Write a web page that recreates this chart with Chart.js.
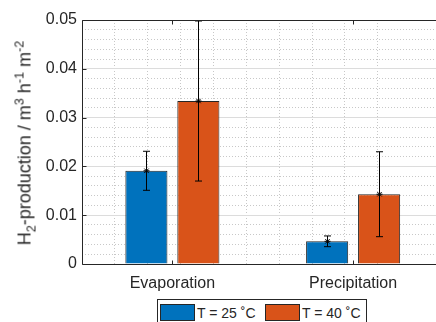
<!DOCTYPE html>
<html lang="en">
<head>
<meta charset="UTF-8">
<title>H2 production</title>
<script src="https://cdn.jsdelivr.net/npm/chart.js"></script>
<style>
  html, body { margin: 0; padding: 0; background: #fff; overflow: hidden; }
  body { font-family: 'Liberation Sans', Arial, sans-serif; color: #262626; }
  #wrap { position: relative; width: 436px; height: 322px; overflow: hidden; }
  #chart { position: absolute; left: 0; top: 0; }
  #ylabel {
    position: absolute; left: 25px; top: 143px;
    transform: translate(-50%, -50%) rotate(-90deg);
    font-size: 18px; white-space: nowrap;
  }
  #ylabel sub, #ylabel sup { font-size: 70%; line-height: 0; }
  #legend {
    position: absolute; left: 157px; top: 299px; width: 208px; height: 30px;
    border: 1px solid #262626; background: #fff; font-size: 14px;
  }
  .sw { position: absolute; top: 4px; width: 33px; height: 15px; border: 1px solid #262626; }
  .lt { position: absolute; top: 5px; line-height: 16px; white-space: nowrap; }
</style>
</head>
<body>
<div id="wrap">
  <canvas id="chart" width="450" height="322"></canvas>
  <div id="ylabel">H<sub>2</sub>-production / m<sup>3</sup> h<sup>-1</sup> m<sup>-2</sup></div>
  <div id="legend"></div>
</div>

<script>
// data
var categories = ['Evaporation', 'Precipitation'];
var seriesNames = ['T = 25 \u02DAC', 'T = 40 \u02DAC'];
var mean25 = [0.0191, 0.00465];
var err25 = [0.0040, 0.0011];
var mean40 = [0.0334, 0.0143];
var err40 = [0.0164, 0.0087];
var yTicks = [0, 0.01, 0.02, 0.03, 0.04, 0.05];

var colors = ['#0072BD', '#D95319'];
var axisColor = '#262626';

function isWhole(v, unit) {
  var q = v / unit;
  return Math.abs(q - Math.round(q)) < 1e-6;
}
function tickVal(c) {
  return c && c.tick ? c.tick.value : null;
}

// error bars + asterisk marker on top of each bar
var errorBars = {
  id: 'errorBars',
  afterDatasetsDraw: function (chart) {
    var ctx = chart.ctx, y = chart.scales.y;
    ctx.save();
    ctx.strokeStyle = '#000';
    ctx.lineWidth = 1;
    chart.data.datasets.forEach(function (ds, i) {
      chart.getDatasetMeta(i).data.forEach(function (bar, j) {
        var m = ds.data[j], e = ds.errors[j];
        var x = Math.round(bar.x) + 0.5;
        var hi = y.getPixelForValue(m + e), lo = y.getPixelForValue(m - e), mid = y.getPixelForValue(m);
        ctx.beginPath();
        ctx.moveTo(x, hi); ctx.lineTo(x, lo);
        ctx.moveTo(x - 3.5, hi); ctx.lineTo(x + 3.5, hi);
        ctx.moveTo(x - 3.5, lo); ctx.lineTo(x + 3.5, lo);
        // asterisk
        ctx.moveTo(x - 3, mid); ctx.lineTo(x + 3, mid);
        ctx.moveTo(x, mid - 3); ctx.lineTo(x, mid + 3);
        ctx.moveTo(x - 2.2, mid - 2.2); ctx.lineTo(x + 2.2, mid + 2.2);
        ctx.moveTo(x - 2.2, mid + 2.2); ctx.lineTo(x + 2.2, mid - 2.2);
        ctx.stroke();
      });
    });
    ctx.restore();
  }
};

// MATLAB style box with inward ticks
var axesBox = {
  id: 'axesBox',
  afterDraw: function (chart) {
    var ctx = chart.ctx, a = chart.chartArea;
    var y = chart.scales.y, x = chart.scales.x;
    var l = Math.round(a.left) + 0.5, b = Math.round(a.bottom) + 0.5, t = Math.round(a.top) + 0.5;
    ctx.save();
    ctx.strokeStyle = axisColor;
    ctx.lineWidth = 1;
    ctx.beginPath();
    ctx.moveTo(l, t); ctx.lineTo(l, b); ctx.lineTo(a.right, b);
    ctx.moveTo(l, t); ctx.lineTo(a.right, t);
    yTicks.forEach(function (v) {
      var py = Math.round(y.getPixelForValue(v)) + 0.5;
      ctx.moveTo(l, py); ctx.lineTo(l + 4, py);
    });
    categories.forEach(function (c, i) {
      var px = Math.round(x.getPixelForValue(i)) + 0.5;
      ctx.moveTo(px, b); ctx.lineTo(px, b - 4);
      ctx.moveTo(px, t); ctx.lineTo(px, t + 4);
    });
    ctx.stroke();
    ctx.restore();
  }
};

var ctx = document.getElementById('chart').getContext('2d');
var chart = new Chart(ctx, {
  type: 'bar',
  data: {
    labels: categories,
    datasets: [{
      label: seriesNames[0],
      data: mean25,
      errors: err25,
      backgroundColor: colors[0],
      borderColor: axisColor,
      borderWidth: 1
    }, {
      label: seriesNames[1],
      data: mean40,
      errors: err40,
      backgroundColor: colors[1],
      borderColor: axisColor,
      borderWidth: 1
    }]
  },
  options: {
    responsive: false,
    animation: false,
    categoryPercentage: 0.575,
    barPercentage: 0.81,
    layout: { padding: { top: 20, right: 6.5, left: 0, bottom: 0 } },
    plugins: { legend: { display: false }, tooltip: { enabled: false } },
    scales: {
      x: {
        position: 'bottom',
        grid: { display: false },
        border: { display: false },
        ticks: {
          color: axisColor, padding: 1.5,
          font: { family: "'Liberation Sans', Arial, sans-serif", size: 16 }
        },
        afterFit: function (s) { s.height = 58; }
      },
      xg: {
        type: 'linear', position: 'bottom',
        min: 0.5, max: 2.5,
        ticks: { display: false, stepSize: 0.2, maxTicksLimit: 50 },
        border: {
          display: false,
          dash: function (c) {
            var v = tickVal(c);
            return v === null || isWhole(v, 1) ? [] : [1, 2];
          }
        },
        grid: {
          drawTicks: false,
          color: function (c) {
            var v = tickVal(c);
            if (v === null) return '#dcdcdc';
            if (Math.abs(v - 0.5) < 1e-6 || Math.abs(v - 2.5) < 1e-6) return 'rgba(0,0,0,0)';
            return isWhole(v, 1) ? '#dcdcdc' : '#c8c8c8';
          }
        },
        afterFit: function (s) { s.height = 0; }
      },
      y: {
        min: 0, max: 0.05,
        border: {
          display: false,
          dash: function (c) {
            var v = tickVal(c);
            return v === null || isWhole(v, 0.01) ? [] : [1, 2];
          }
        },
        grid: {
          drawTicks: false,
          color: function (c) {
            var v = tickVal(c);
            if (v === null) return '#dcdcdc';
            if (v === 0) return 'rgba(0,0,0,0)';
            return isWhole(v, 0.01) ? '#dcdcdc' : '#c8c8c8';
          }
        },
        ticks: {
          stepSize: 0.002, maxTicksLimit: 100, autoSkip: false,
          color: axisColor, padding: 5,
          font: { family: "'Liberation Sans', Arial, sans-serif", size: 16 },
          callback: function (v) {
            if (!isWhole(v, 0.01)) return '';
            return v === 0 ? '0' : v.toFixed(2);
          }
        },
        afterFit: function (s) { s.width = 82; }
      }
    }
  },
  plugins: [errorBars, axesBox]
});

// legend built from the series
var legend = document.getElementById('legend');
var swLeft = [2, 107];
seriesNames.forEach(function (name, i) {
  var sw = document.createElement('div');
  sw.className = 'sw';
  sw.style.left = swLeft[i] + 'px';
  sw.style.background = colors[i];
  legend.appendChild(sw);
  var t = document.createElement('div');
  t.className = 'lt';
  t.style.left = (swLeft[i] + 37) + 'px';
  t.textContent = name;
  legend.appendChild(t);
});
</script>
</body>
</html>
